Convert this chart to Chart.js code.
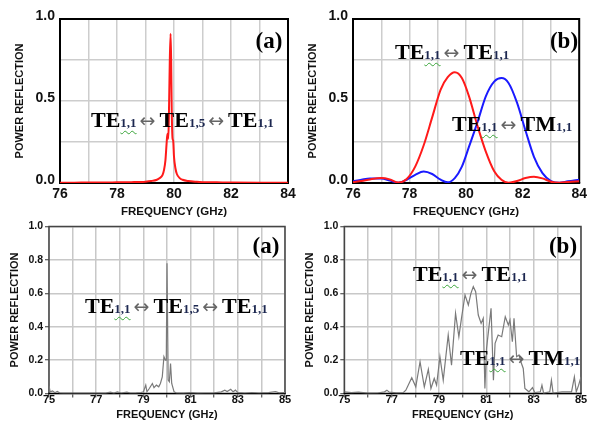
<!DOCTYPE html>
<html><head><meta charset="utf-8">
<script src="https://cdn.jsdelivr.net/npm/chart.js@4.4.1/dist/chart.umd.min.js"></script>
<style>
html,body{margin:0;padding:0;background:#fff;}
#wrap{position:relative;width:590px;height:426px;overflow:hidden;background:#fff;}
canvas{position:absolute;left:0;top:0;}
.ann{position:absolute;white-space:nowrap;font-family:"Liberation Serif","Times New Roman",serif;font-weight:bold;font-size:22px;line-height:1;color:#000;transform:translateY(-50%);}
.ann .s{font-size:13px;color:#1c2750;}
.ann .w{text-decoration:underline wavy #3aa53a;text-decoration-thickness:1px;text-underline-offset:3px;}
.ann .a{font-family:"DejaVu Sans",sans-serif;font-weight:normal;font-size:19px;color:#666;margin:0 4px 0 3px;}
.lab{position:absolute;white-space:nowrap;font-family:"Liberation Serif","Times New Roman",serif;font-weight:bold;font-size:23px;line-height:1;color:#000;transform:translate(-50%,-50%);}
</style>
</head><body>
<div id="wrap">
<canvas id="c1" width="590" height="426" style="width:590px;height:426px"></canvas>
<canvas id="c2" width="590" height="426" style="width:590px;height:426px"></canvas>
<canvas id="c3" width="590" height="426" style="width:590px;height:426px"></canvas>
<canvas id="c4" width="590" height="426" style="width:590px;height:426px"></canvas>

<div class="ann" style="left:91px;top:120px">TE<span class="s w">1,1</span><span class="a">↔</span>TE<span class="s">1,5</span><span class="a">↔</span>TE<span class="s">1,1</span></div>
<div class="lab" style="left:269px;top:40px">(a)</div>

<div class="ann" style="left:395px;top:52px">TE<span class="s w">1,1</span><span class="a">↔</span>TE<span class="s">1,1</span></div>
<div class="ann" style="left:452px;top:124px">TE<span class="s w">1,1</span><span class="a">↔</span>TM<span class="s">1,1</span></div>
<div class="lab" style="left:564px;top:40px">(b)</div>

<div class="ann" style="left:85px;top:306px">TE<span class="s w">1,1</span><span class="a">↔</span>TE<span class="s">1,5</span><span class="a">↔</span>TE<span class="s">1,1</span></div>
<div class="lab" style="left:266px;top:245px">(a)</div>

<div class="ann" style="left:413px;top:274px">TE<span class="s w">1,1</span><span class="a">↔</span>TE<span class="s">1,1</span></div>
<div class="ann" style="left:460px;top:358px">TE<span class="s w">1,1</span><span class="a">↔</span>TM<span class="s">1,1</span></div>
<div class="lab" style="left:563px;top:245px">(b)</div>
</div>
<script>
// ---------- data ----------
// (a) top: simulated TE1,1 <-> TE1,5 <-> TE1,1
const simAFreq = [76, 76.5, 77, 77.5, 78, 78.5, 79, 79.2, 79.4, 79.5, 79.6, 79.65, 79.7, 79.74, 79.77, 79.8, 79.82, 79.85, 79.88, 79.9, 79.92, 79.95, 79.97, 80.0, 80.05, 80.1, 80.2, 80.3, 80.5, 80.8, 81, 81.5, 82, 83, 84];
const simAVal  = [0.002, 0.002, 0.003, 0.003, 0.004, 0.005, 0.008, 0.012, 0.02, 0.03, 0.05, 0.08, 0.14, 0.24, 0.30, 0.27, 0.40, 0.72, 0.91, 0.75, 0.45, 0.27, 0.26, 0.16, 0.09, 0.055, 0.03, 0.02, 0.012, 0.007, 0.005, 0.004, 0.003, 0.002, 0.002];

// (b) top: simulated TE1,1<->TE1,1 (red) and TE1,1<->TM1,1 (blue)
const simBFreq = [76, 76.3, 76.6, 77, 77.3, 77.6, 77.9, 78.2, 78.5, 78.8, 79.1, 79.35, 79.6, 79.85, 80.1, 80.4, 80.7, 81.0, 81.25, 81.5, 81.8, 82.1, 82.4, 82.7, 83.0, 83.3, 83.6, 84];
const simBTE   = [0.005, 0.012, 0.022, 0.03, 0.022, 0.003, 0.025, 0.10, 0.23, 0.40, 0.57, 0.645, 0.675, 0.64, 0.53, 0.35, 0.19, 0.07, 0.02, 0.002, 0.012, 0.03, 0.038, 0.028, 0.008, 0.002, 0.006, 0.01];
const simBTM   = [0.01, 0.02, 0.028, 0.027, 0.015, 0.002, 0.02, 0.05, 0.07, 0.055, 0.02, 0.004, 0.03, 0.10, 0.22, 0.37, 0.53, 0.62, 0.64, 0.61, 0.49, 0.32, 0.16, 0.06, 0.012, 0.001, 0.01, 0.02];

// (a) bottom: measured
const measAFreq = [75.0, 75.05, 75.15, 75.25, 75.35, 75.45, 75.6, 76, 76.5, 77, 77.4, 77.6, 77.75, 77.9, 78.05, 78.3, 78.45, 78.7, 78.9, 79.0, 79.1, 79.15, 79.25, 79.38, 79.45, 79.55, 79.65, 79.72, 79.8, 79.87, 79.93, 79.97, 80.0, 80.05, 80.1, 80.15, 80.2, 80.3, 80.4, 80.7, 81, 81.3, 81.6, 82, 82.3, 82.45, 82.55, 82.7, 82.8, 82.9, 83.0, 83.3, 83.6, 83.9, 84.3, 84.6, 84.75, 85];
const measAVal  = [0.045, 0.01, 0.015, 0.005, 0.012, 0.004, 0.002, 0.002, 0.002, 0.003, 0.002, 0.008, 0.002, 0.01, 0.003, 0.008, 0.003, 0.004, 0.006, 0.01, 0.05, 0.01, 0.03, 0.06, 0.035, 0.05, 0.04, 0.06, 0.1, 0.22, 0.2, 0.2, 0.78, 0.08, 0.07, 0.18, 0.06, 0.01, 0.003, 0.002, 0.005, 0.002, 0.003, 0.004, 0.01, 0.02, 0.012, 0.025, 0.01, 0.02, 0.005, 0.003, 0.006, 0.003, 0.005, 0.012, 0.004, 0.005];

// (b) bottom: measured
const measBFreq = [75, 75.3, 75.6, 76, 76.4, 76.7, 76.8, 76.9, 77.2, 77.5, 77.6, 77.85, 78.02, 78.2, 78.38, 78.55, 78.66, 78.8, 78.9, 79.04, 79.18, 79.39, 79.53, 79.7, 79.84, 79.95, 80.1, 80.24, 80.35, 80.45, 80.55, 80.66, 80.78, 80.87, 80.94, 81.01, 81.2, 81.3, 81.37, 81.5, 81.65, 81.8, 81.93, 82.0, 82.1, 82.17, 82.28, 82.38, 82.46, 82.56, 82.63, 82.8, 82.95, 83.05, 83.28, 83.35, 83.42, 83.68, 83.75, 83.82, 84.2, 84.6, 84.72, 84.8, 84.9, 85];
const measBVal  = [0.01, 0.005, 0.008, 0.002, 0.003, 0.01, 0.02, 0.008, 0.004, 0.006, 0.02, 0.095, 0.04, 0.19, 0.04, 0.145, 0.03, 0.09, 0.05, 0.22, 0.08, 0.35, 0.17, 0.48, 0.34, 0.45, 0.59, 0.53, 0.6, 0.64, 0.61, 0.47, 0.42, 0.45, 0.03, 0.27, 0.51, 0.08, 0.3, 0.35, 0.34, 0.46, 0.41, 0.44, 0.31, 0.45, 0.22, 0.23, 0.19, 0.15, 0.03, 0.01, 0.035, 0.005, 0.01, 0.05, 0.002, 0.01, 0.08, 0.002, 0.01, 0.01, 0.1, 0.01, 0.05, 0.1];

// tick labels
const topXLabels = [76, 78, 80, 82, 84];
const topYLabels = ['0.0', '0.5', '1.0'];
const botXLabels = [75, 77, 79, 81, 83, 85];
const botYLabels = ['0.0', '0.2', '0.4', '0.6', '0.8', '1.0'];

// ---------- drawing ----------
const framePlugin = {
  id: 'frame',
  beforeDatasetsDraw(chart, args, o) {
    const {ctx, chartArea: c} = chart;
    ctx.save();
    ctx.lineWidth = o.width;
    ctx.strokeStyle = o.side;
    ctx.beginPath();
    ctx.moveTo(c.left, c.bottom);
    ctx.lineTo(c.left, c.top);
    ctx.lineTo(c.right, c.top);
    ctx.lineTo(c.right, c.bottom);
    ctx.stroke();
    ctx.strokeStyle = o.base;
    ctx.beginPath();
    ctx.moveTo(c.left - o.width / 2, c.bottom);
    ctx.lineTo(c.right + o.width / 2, c.bottom);
    ctx.stroke();
    ctx.restore();
  }
};

function makeChart(id, p) {
  const W = 590, H = 426;
  const yLH = p.yTitleSize * 1.2, xLH = p.xTitleSize * 1.2;
  const padL = p.yTitleX - yLH / 2;
  const padB = H - (p.xTitleY + xLH / 2);
  const padT = p.area.t, padR = W - p.area.r;
  const yW = p.area.l - padL;
  const xH = (H - padB) - p.area.b;
  const fam = '"Liberation Sans", Arial, sans-serif';
  return new Chart(document.getElementById(id), {
    type: 'line',
    data: {
      datasets: p.series.map(s => ({
        data: s.x.map((x, i) => ({x: x, y: s.y[i]})),
        borderColor: s.color, borderWidth: s.width, pointRadius: 0,
        tension: s.smooth ? 0.4 : 0, cubicInterpolationMode: s.smooth ? 'monotone' : 'default',
        fill: false
      }))
    },
    options: {
      responsive: false, animation: false, events: [],
      layout: {padding: {left: padL, right: padR, top: padT, bottom: padB}},
      plugins: {legend: {display: false}, tooltip: {enabled: false},
        frame: {width: p.frameWidth, side: p.frameColor, base: '#000'}},
      scales: {
        x: {
          type: 'linear', min: p.xMin, max: p.xMax,
          afterFit(s) { s.height = xH; },
          border: {display: false},
          grid: {color: p.gridColor, lineWidth: p.gridWidth, drawTicks: p.ticks, tickLength: 4, tickColor: '#333', tickWidth: 1},
          ticks: {stepSize: 1, autoSkip: false, maxRotation: 0, padding: p.xTickPad,
            font: {family: fam, weight: 'bold', size: p.xTickSize}, color: '#111',
            callback: v => p.xLabels.includes(v) ? String(v) : ''},
          title: {display: true, text: 'FREQUENCY (GHz)', padding: 0, color: '#111',
            font: {family: fam, weight: 'bold', size: p.xTitleSize}}
        },
        y: {
          min: 0, max: 1,
          afterFit(s) { s.width = yW; },
          border: {display: false},
          grid: {color: p.gridColor, lineWidth: p.gridWidth, drawTicks: p.ticks, tickLength: 4, tickColor: '#333', tickWidth: 1},
          ticks: {stepSize: p.yStep, autoSkip: false, padding: p.yTickPad, labelOffset: p.yLabelOffset,
            font: {family: fam, weight: 'bold', size: p.yTickSize}, color: '#111',
            callback: v => { const t = (Math.round(v * 100) / 100).toFixed(1); return p.yLabels.includes(t) && Math.abs(v - parseFloat(t)) < 1e-6 ? t : ''; }},
          title: {display: true, text: 'POWER REFLECTION', padding: 0, color: '#111',
            font: {family: fam, weight: 'bold', size: p.yTitleSize}}
        }
      }
    },
    plugins: [framePlugin]
  });
}

const topCommon = {
  xMin: 76, xMax: 84, yStep: 0.25, xLabels: topXLabels, yLabels: topYLabels,
  gridColor: '#cdcdcd', gridWidth: 1.5, ticks: false, frameWidth: 2, frameColor: '#000',
  xTickSize: 14, yTickSize: 14, xTickPad: 3, yTickPad: 5, yLabelOffset: -3,
  xTitleSize: 11.5, yTitleSize: 11, xTitleY: 211.5
};
const botCommon = {
  xMin: 75, xMax: 85, yStep: 0.2, xLabels: botXLabels, yLabels: botYLabels,
  gridColor: '#c8c8c8', gridWidth: 1.5, ticks: true, frameWidth: 1.5, frameColor: '#444',
  xTickSize: 11, yTickSize: 10.5, xTickPad: -4, yTickPad: 2, yLabelOffset: 0,
  xTitleSize: 11, yTitleSize: 11, xTitleY: 414.7
};

makeChart('c1', Object.assign({}, topCommon, {
  area: {l: 60, t: 19, r: 288, b: 183}, yTitleX: 20,
  series: [{x: simAFreq, y: simAVal, color: '#ff1a1a', width: 2, smooth: true}]
}));
makeChart('c2', Object.assign({}, topCommon, {
  area: {l: 353, t: 19, r: 581, b: 183}, yTitleX: 313,
  series: [
    {x: simBFreq, y: simBTE, color: '#ff1a1a', width: 2, smooth: true},
    {x: simBFreq, y: simBTM, color: '#1a1aff', width: 2, smooth: true}
  ]
}));
makeChart('c3', Object.assign({}, botCommon, {
  area: {l: 49, t: 226.5, r: 285, b: 393.5}, yTitleX: 15,
  series: [{x: measAFreq, y: measAVal, color: '#7a7a7a', width: 1.2, smooth: false}]
}));
makeChart('c4', Object.assign({}, botCommon, {
  area: {l: 344.3, t: 226.5, r: 581, b: 393.5}, yTitleX: 310,
  series: [{x: measBFreq, y: measBVal, color: '#7a7a7a', width: 1.2, smooth: false}]
}));
</script>
</body></html>
